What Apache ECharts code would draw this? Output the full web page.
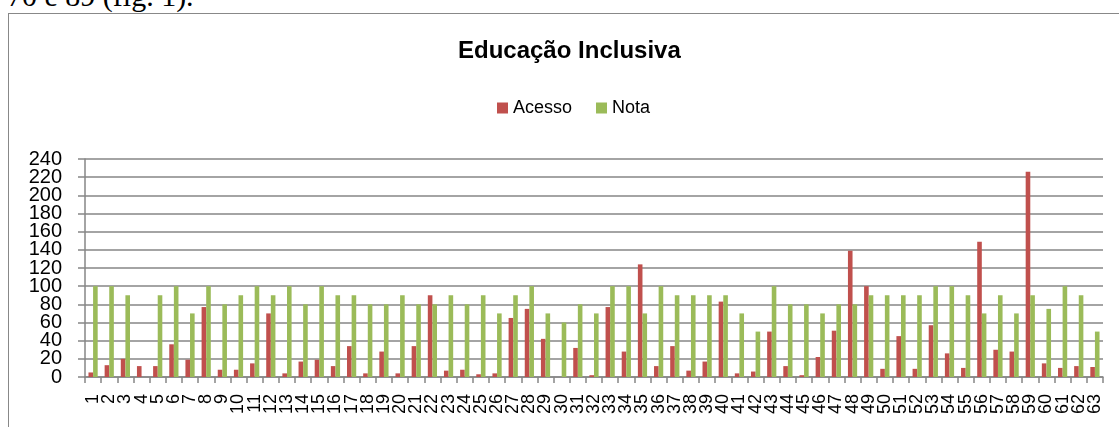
<!DOCTYPE html>
<html>
<head>
<meta charset="utf-8">
<title>Educação Inclusiva</title>
<script src="https://cdn.jsdelivr.net/npm/echarts@6/dist/echarts.min.js"></script>
<style>
    html, body { margin: 0; padding: 0; background: #fff; overflow: hidden; }
    body { width: 1119px; height: 427px; position: relative; }
    .texto { position: absolute; left: 7px; top: -19px; font-family: "Liberation Serif", serif; font-size: 30px; line-height: 30px; color: #000; white-space: nowrap; }
    .moldura { position: absolute; left: 8px; top: 13px; width: 1200px; height: 500px; border: 1px solid #888; }
    #grafico { position: absolute; left: 0; top: 0; width: 1119px; height: 427px; }
</style>
</head>
<body>
    <div class="texto">70 e 89 (fig. 1).</div>
    <div class="moldura"></div>
    <div id="grafico"></div>

<script>
    // dados
    var categorias = ['1','2','3','4','5','6','7','8','9','10',
        '11','12','13','14','15','16','17','18','19','20',
        '21','22','23','24','25','26','27','28','29','30',
        '31','32','33','34','35','36','37','38','39','40',
        '41','42','43','44','45','46','47','48','49','50',
        '51','52','53','54','55','56','57','58','59','60',
        '61','62','63'];
    var acesso = [5,13,20,12,12,36,19,77,8,8,
        15,70,4,17,19,12,34,4,28,4,
        34,90,7,8,3,4,65,75,42,0,
        32,2,77,28,124,12,34,7,17,83,
        4,6,50,12,2,22,51,139,100,9,
        45,9,57,26,10,149,30,28,226,15,
        10,12,11];
    var nota = [100,100,90,0,90,100,70,100,80,90,
        100,90,100,80,100,90,90,80,80,90,
        80,80,90,80,90,70,90,100,70,60,
        80,70,100,100,70,100,90,90,90,90,
        70,50,100,80,80,70,80,80,90,90,
        90,90,100,100,90,70,90,70,90,75,
        100,90,50];
    // rótulos do eixo y, repartidos em dois eixos para não se esconderem
    var rotulosPares = [0, 40, 80, 120, 160, 200, 240];
    var rotulosImpares = [20, 60, 100, 140, 180, 220];

    var cinza = '#868686';
    var fonte = 'Liberation Sans, Arial, sans-serif';
    var estiloRotuloY = {
        margin: 23,
        fontFamily: fonte,
        fontSize: 20,
        color: '#000'
    };

    var grafico = echarts.init(document.getElementById('grafico'));
    var opcao = {
        animation: false,
        title: {
            text: 'Educação Inclusiva',
            left: 458,
            top: 39,
            padding: 0,
            textStyle: { fontFamily: fonte, fontSize: 24, fontWeight: 'bold', color: '#000' }
        },
        legend: {
            data: ['Acesso', 'Nota'],
            left: 497,
            top: 99,
            padding: 0,
            itemWidth: 11,
            itemHeight: 11,
            itemGap: 24,
            icon: 'rect',
            textStyle: { fontFamily: fonte, fontSize: 18, color: '#000' }
        },
        grid: {
            left: 85,
            right: 16,
            top: 159,
            bottom: 50,
            containLabel: false
        },
        xAxis: {
            type: 'category',
            data: categorias,
            axisLine: { lineStyle: { color: cinza, width: 1.5 } },
            axisTick: { show: true, length: 6, lineStyle: { color: cinza, width: 1.5 } },
            axisLabel: {
                interval: 0,
                rotate: 90,
                margin: 17,
                fontFamily: fonte,
                fontSize: 18,
                color: '#000'
            }
        },
        yAxis: [
            {
                type: 'value',
                position: 'left',
                min: 0,
                max: 240,
                interval: 20,
                axisLine: { show: true, lineStyle: { color: cinza, width: 1.5 } },
                axisTick: { show: true, length: 7, lineStyle: { color: cinza, width: 1.5 } },
                axisLabel: Object.assign({ customValues: rotulosPares }, estiloRotuloY),
                splitLine: { show: true, showMinLine: true, showMaxLine: true, lineStyle: { color: cinza, width: 1.5 } }
            },
            {
                type: 'value',
                position: 'left',
                offset: 0,
                min: 0,
                max: 240,
                interval: 20,
                axisLine: { show: false },
                axisTick: { show: false },
                axisLabel: Object.assign({ customValues: rotulosImpares }, estiloRotuloY),
                splitLine: { show: false }
            }
        ],
        series: [
            {
                name: 'Acesso',
                type: 'bar',
                data: acesso,
                barGap: '0%',
                barCategoryGap: '43%',
                itemStyle: { color: '#C0504D' }
            },
            {
                name: 'Nota',
                type: 'bar',
                data: nota,
                itemStyle: { color: '#9BBB59' }
            }
        ]
    };
    grafico.setOption(opcao);
</script>
</body>
</html>
